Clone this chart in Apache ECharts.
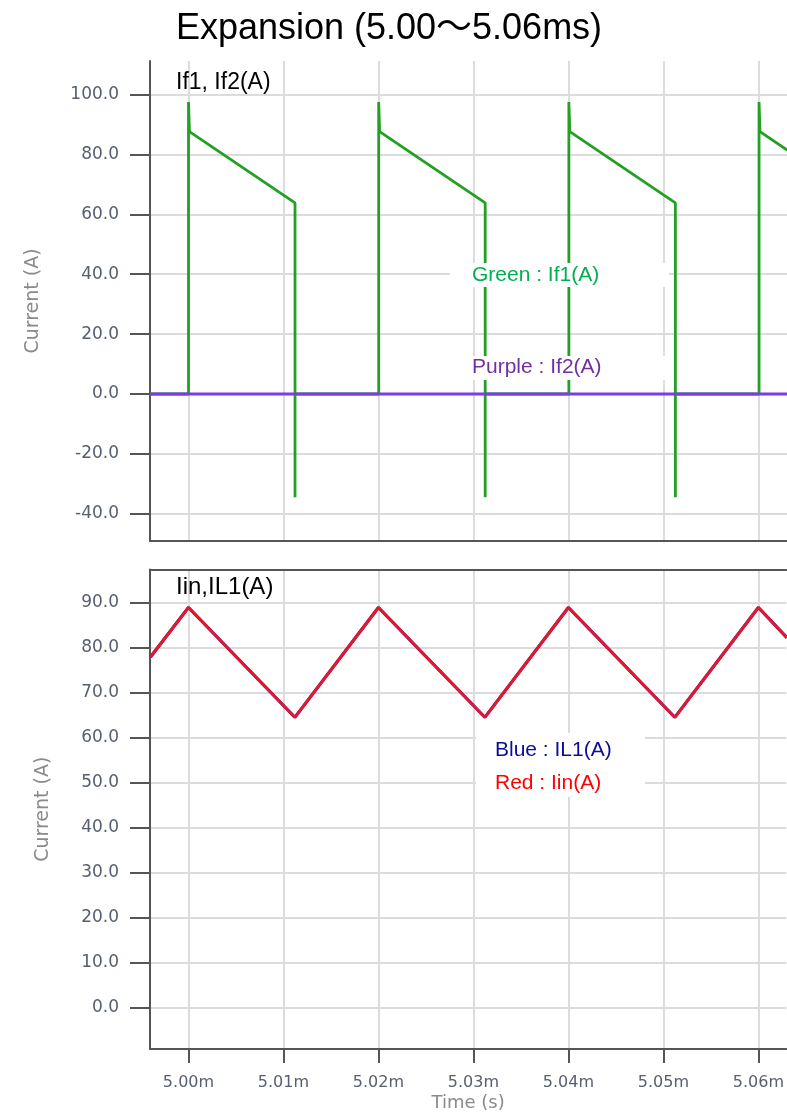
<!DOCTYPE html>
<html>
<head>
<meta charset="utf-8">
<script src="https://cdn.jsdelivr.net/npm/echarts@6/dist/echarts.min.js"></script>
<style>
html,body{margin:0;padding:0;background:#ffffff;}
#chart{width:787px;height:1115px;}
</style>
</head>
<body>
<div id="chart"></div>
<script>
// ---- data (time in ms) ----
const xTickValues = [5.00, 5.01, 5.02, 5.03, 5.04, 5.05, 5.06];
const topTickValues = [-40, -20, 0, 20, 40, 60, 80, 100];
const bottomTickValues = [0, 10, 20, 30, 40, 50, 60, 70, 80, 90];

const if1Time  = [4.996, 5.0000, 5.0000, 5.0001, 5.0112, 5.0112, 5.0112, 5.0200, 5.0200, 5.0201, 5.0312, 5.0312, 5.0312, 5.0400, 5.0400, 5.0401, 5.0512, 5.0512, 5.0512, 5.0600, 5.0600, 5.0601, 5.0630];
const if1Value = [0, 0, 97.5, 87.6, 63.8, -34.5, 0, 0, 97.5, 87.6, 63.8, -34.5, 0, 0, 97.5, 87.6, 63.8, -34.5, 0, 0, 97.5, 87.6, 81.4];

const if2Time  = [4.996, 5.063];
const if2Value = [0, 0];

const iinTime  = [4.996, 5.0000, 5.0112, 5.0200, 5.0312, 5.0400, 5.0512, 5.0600, 5.0630];
const iinValue = [78.0, 89.0, 64.6, 89.0, 64.6, 89.0, 64.6, 89.0, 82.3];
const il1Value = [78.0, 89.0, 64.6, 89.0, 64.6, 89.0, 64.6, 89.0, 82.3];

const titleText = 'Expansion (5.00\uFF5E5.06ms)';
const topPanelLabel = 'If1, If2(A)';
const bottomPanelLabel = 'Iin,IL1(A)';
const legendTop = ['Green : If1(A)', 'Purple : If2(A)'];
const legendBottom = ['Blue : IL1(A)', 'Red : Iin(A)'];

function pairs(xs, ys) { return xs.map((x, i) => [x, ys[i]]); }

// ---- styles ----
const X_MIN = 4.99595, X_MAX = 5.06294;
const AXIS_COLOR = '#555555';
const GRID_COLOR = '#dcdcdc';
const LABEL_COLOR = '#56606e';
const NAME_COLOR = '#8a8a8a';
const AX_FONT = '"DejaVu Sans", sans-serif';
const TXT_FONT = '"Liberation Sans", Arial, "Noto Sans CJK JP", sans-serif';

const chart = echarts.init(document.getElementById('chart'), null, {renderer: 'canvas'});

const baseX = {
  type: 'value', min: X_MIN, max: X_MAX,
  axisLine: {show: true, onZero: false, lineStyle: {color: AXIS_COLOR, width: 2}},
  splitLine: {show: true, lineStyle: {color: GRID_COLOR, width: 2}}
};

const option = {
  animation: false,
  backgroundColor: '#ffffff',
  grid: [
    {left: 150, top: 61, right: 0, height: 480},
    {left: 150, top: 569.5, right: 0, height: 479.5}
  ],
  xAxis: [
    Object.assign({}, baseX, {
      gridIndex: 0,
      axisTick: {show: false, customValues: xTickValues},
      axisLabel: {show: false, customValues: xTickValues}
    }),
    Object.assign({}, baseX, {
      gridIndex: 1,
      axisTick: {show: true, length: 14, customValues: xTickValues, lineStyle: {color: AXIS_COLOR, width: 2}},
      axisLabel: {show: true, customValues: xTickValues, margin: 26, fontSize: 16, fontFamily: AX_FONT, color: LABEL_COLOR,
        formatter: v => v.toFixed(2) + 'm'},
      name: 'Time (s)', nameLocation: 'middle', nameGap: 45,
      nameTextStyle: {fontSize: 18, fontFamily: AX_FONT, color: NAME_COLOR}
    }),
    {
      type: 'value', gridIndex: 1, position: 'top', min: X_MIN, max: X_MAX,
      axisLine: {show: true, onZero: false, lineStyle: {color: AXIS_COLOR, width: 2}},
      axisTick: {show: false}, axisLabel: {show: false}, splitLine: {show: false}
    }
  ],
  yAxis: [
    {
      type: 'value', gridIndex: 0, min: -49.1, max: 111.2,
      axisLine: {show: true, onZero: false, lineStyle: {color: AXIS_COLOR, width: 2}},
      axisTick: {show: true, length: 20, customValues: topTickValues, lineStyle: {color: AXIS_COLOR, width: 2}},
      axisLabel: {customValues: topTickValues, margin: 31, fontSize: 17, fontFamily: AX_FONT, color: LABEL_COLOR,
        formatter: v => v.toFixed(1)},
      splitLine: {show: true, lineStyle: {color: GRID_COLOR, width: 2}},
      name: 'Current (A)', nameLocation: 'middle', nameGap: 107, nameRotate: 90,
      nameTextStyle: {fontSize: 19, fontFamily: AX_FONT, color: NAME_COLOR}
    },
    {
      type: 'value', gridIndex: 1, min: -9.11, max: 97.44,
      axisLine: {show: true, onZero: false, lineStyle: {color: AXIS_COLOR, width: 2}},
      axisTick: {show: true, length: 20, customValues: bottomTickValues, lineStyle: {color: AXIS_COLOR, width: 2}},
      axisLabel: {customValues: bottomTickValues, margin: 31, fontSize: 17, fontFamily: AX_FONT, color: LABEL_COLOR,
        formatter: v => v.toFixed(1)},
      splitLine: {show: true, lineStyle: {color: GRID_COLOR, width: 2}},
      name: 'Current (A)', nameLocation: 'middle', nameGap: 97, nameRotate: 90,
      nameTextStyle: {fontSize: 19, fontFamily: AX_FONT, color: NAME_COLOR}
    }
  ],
  series: [
    {name: 'If1', type: 'line', xAxisIndex: 0, yAxisIndex: 0, data: pairs(if1Time, if1Value),
      showSymbol: false, symbol: 'none', lineStyle: {color: '#23a023', width: 2.8}, z: 3},
    {name: 'If2', type: 'line', xAxisIndex: 0, yAxisIndex: 0, data: pairs(if2Time, if2Value),
      showSymbol: false, symbol: 'none', lineStyle: {color: '#7d3ce6', width: 3}, z: 4},
    {name: 'IL1', type: 'line', xAxisIndex: 1, yAxisIndex: 1, data: pairs(iinTime, il1Value),
      showSymbol: false, symbol: 'none', lineStyle: {color: '#1010a0', width: 3}, z: 3},
    {name: 'Iin', type: 'line', xAxisIndex: 1, yAxisIndex: 1, data: pairs(iinTime, iinValue),
      showSymbol: false, symbol: 'none', lineStyle: {color: '#e3172d', width: 3}, z: 4}
  ],
  graphic: [
    {type: 'text', x: 389, y: 29, z: 100, style: {text: titleText, fill: '#000', font: '36px ' + TXT_FONT, align: 'center', verticalAlign: 'middle'}},
    {type: 'text', x: 176, y: 83, z: 100, style: {text: topPanelLabel, fill: '#000', font: '23px ' + TXT_FONT, align: 'left', verticalAlign: 'middle'}},
    {type: 'text', x: 176, y: 587, z: 100, style: {text: bottomPanelLabel, fill: '#000', font: '24px ' + TXT_FONT, align: 'left', verticalAlign: 'middle'}},
    {type: 'rect', z: 99, shape: {x: 450, y: 263, width: 219, height: 24}, style: {fill: '#ffffff'}},
    {type: 'rect', z: 99, shape: {x: 450, y: 356, width: 219, height: 24}, style: {fill: '#ffffff'}},
    {type: 'text', x: 472, y: 275, z: 100, style: {text: legendTop[0], fill: '#00b050', font: '21px ' + TXT_FONT, align: 'left', verticalAlign: 'middle'}},
    {type: 'text', x: 472, y: 367, z: 100, style: {text: legendTop[1], fill: '#7030a0', font: '21px ' + TXT_FONT, align: 'left', verticalAlign: 'middle'}},
    {type: 'rect', z: 99, shape: {x: 476, y: 733, width: 169, height: 64}, style: {fill: '#ffffff'}},
    {type: 'text', x: 495, y: 750, z: 100, style: {text: legendBottom[0], fill: '#0c0c98', font: '21px ' + TXT_FONT, align: 'left', verticalAlign: 'middle'}},
    {type: 'text', x: 495, y: 783, z: 100, style: {text: legendBottom[1], fill: '#ff0000', font: '21px ' + TXT_FONT, align: 'left', verticalAlign: 'middle'}}
  ]
};
chart.setOption(option);
</script>
</body>
</html>
